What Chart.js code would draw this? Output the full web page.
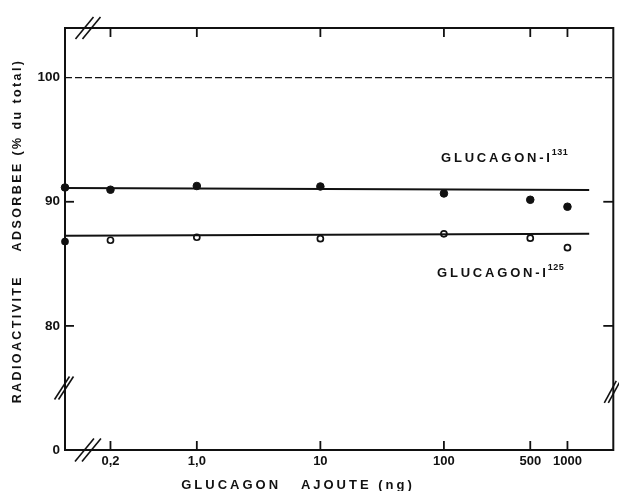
<!DOCTYPE html>
<html>
<head>
<meta charset="utf-8">
<script src="https://cdn.jsdelivr.net/npm/chart.js@4/dist/chart.umd.min.js"></script>
<style>
  html, body { margin: 0; padding: 0; background: #fff; }
  canvas { display: block; }
</style>
</head>
<body>
<canvas id="chart" width="619" height="491"></canvas>
<script>
// ===============================
// Data
// ===============================

// glucagon added (ng), 0 = control sitting on the left axis
const doses = [0, 0.2, 1, 10, 100, 500, 1000];

// % radioactivity adsorbed
const i131 = [91.15, 90.97, 91.27, 91.23, 90.67, 90.16, 89.6];
const i125 = [86.8, 86.9, 87.14, 87.03, 87.42, 87.07, 86.3];

// fitted horizontal lines
const fitDoses = [0, 1500];
const fit131 = [91.1, 90.95];
const fit125 = [87.26, 87.42];

// 100 % reference (dashed)
const refDoses = [0, 2350];
const refLine = [100, 100];

// axis ticks
const xTicks = [0.2, 1, 10, 100, 500, 1000];
const xTickLabels = ["0,2", "1,0", "10", "100", "500", "1000"];
const yTicks = [70, 80, 90, 100];
const yTickLabels = ["0", "80", "90", "100"];

const X_MIN = 0.0857;
const X_MAX = 2350;
const Y_MIN = 70;
const Y_MAX = 104;

const INK = "#111";
const FONT = "'Liberation Sans', Arial, sans-serif";

function pts(xs, ys){
    return xs.map(function(x, i){
        return { x: x === 0 ? X_MIN : x, y: ys[i] };
    });
}

function line(ctx, x1, y1, x2, y2){
    ctx.beginPath();
    ctx.moveTo(x1, y1);
    ctx.lineTo(x2, y2);
    ctx.stroke();
}

function slashes(ctx, cx, cy, w, h, gap){
    ctx.save();
    ctx.lineWidth = 1.6;
    [-gap / 2, gap / 2].forEach(function(d){
        line(ctx, cx + d - w / 2, cy + h / 2, cx + d + w / 2, cy - h / 2);
    });
    ctx.restore();
}

function label(ctx, text, sup, x, y){
    ctx.save();
    ctx.fillStyle = INK;
    ctx.textAlign = "left";
    ctx.textBaseline = "alphabetic";
    ctx.font = "bold 13px " + FONT;
    ctx.letterSpacing = "2.8px";
    ctx.fillText(text, x, y);
    const w = ctx.measureText(text).width;
    ctx.font = "bold 9px " + FONT;
    ctx.letterSpacing = "0.5px";
    ctx.fillText(sup, x + w - 1, y - 7);
    ctx.restore();
}

// ===============================
// Frame, inward ticks, axis breaks
// ===============================

const framePlugin = {
    id: "frame",
    beforeDatasetsDraw(chart){
        const ctx = chart.ctx;
        const a = chart.chartArea;
        const xs = chart.scales.x;
        const ys = chart.scales.y;

        ctx.save();
        ctx.strokeStyle = INK;
        ctx.lineWidth = 2;
        ctx.strokeRect(a.left, a.top, a.right - a.left, a.bottom - a.top);

        ctx.lineWidth = 1.8;
        xTicks.forEach(function(v){
            const px = xs.getPixelForValue(v);
            line(ctx, px, a.bottom, px, a.bottom - 9);
            line(ctx, px, a.top, px, a.top + 9);
        });

        yTicks.slice(1, 3).forEach(function(v){
            const py = ys.getPixelForValue(v);
            line(ctx, a.left, py, a.left + 9, py);
            line(ctx, a.right, py, a.right - 10, py);
        });
        ctx.restore();
    },
    afterDraw(chart){
        const ctx = chart.ctx;
        const a = chart.chartArea;
        const xs = chart.scales.x;
        const ys = chart.scales.y;

        ctx.save();
        ctx.strokeStyle = INK;

        const bx = xs.getPixelForValue(0.1315);
        const by = ys.getPixelForValue(75);
        slashes(ctx, bx, a.top, 18, 22, 7);
        slashes(ctx, bx, a.bottom, 19, 23, 7);
        slashes(ctx, a.left - 1, by, 15, 23, 4);
        slashes(ctx, a.right - 1, by + 4, 12, 22, 4);

        // axis titles
        ctx.fillStyle = INK;
        ctx.textBaseline = "middle";
        ctx.textAlign = "center";
        ctx.font = "bold 13px " + FONT;
        ctx.letterSpacing = "3px";
        ctx.fillText("GLUCAGON   AJOUTE (ng)", 298, 485);

        ctx.save();
        ctx.translate(18, 231);
        ctx.rotate(-Math.PI / 2);
        ctx.font = "bold 12.5px " + FONT;
        ctx.letterSpacing = "2.4px";
        ctx.fillText("RADIOACTIVITE    ADSORBEE (% du total)", 0, 0);
        ctx.restore();

        // series labels
        label(ctx, "GLUCAGON-I", "131", 441, 161.5);
        label(ctx, "GLUCAGON-I", "125", 437, 276.5);

        ctx.restore();
    }
};

// ===============================
// Chart
// ===============================

Chart.defaults.font.family = FONT;
Chart.defaults.font.size = 13;
Chart.defaults.font.weight = "bold";
Chart.defaults.color = INK;

new Chart(document.getElementById("chart"), {

    type: "line",

    data: {
        datasets: [
            {
                data: pts(refDoses, refLine),
                borderColor: INK,
                borderWidth: 1.3,
                borderDash: [7, 3],
                pointRadius: 0
            },
            {
                data: pts(fitDoses, fit131),
                borderColor: INK,
                borderWidth: 2,
                pointRadius: 0
            },
            {
                data: pts(fitDoses, fit125),
                borderColor: INK,
                borderWidth: 2,
                pointRadius: 0
            },
            {
                data: pts(doses, i131),
                showLine: false,
                pointRadius: 3.8,
                pointBackgroundColor: INK,
                pointBorderColor: INK,
                pointBorderWidth: 1,
                clip: false
            },
            {
                data: pts(doses, i125),
                showLine: false,
                pointRadius: 3,
                pointBackgroundColor: ["#111", "#fff", "#fff", "#fff", "#fff", "#fff", "#fff"],
                pointBorderColor: INK,
                pointBorderWidth: 1.7,
                clip: false
            }
        ]
    },

    options: {
        responsive: false,
        animation: false,
        devicePixelRatio: 1,
        layout: {
            padding: { left: 0, right: 5, top: 28, bottom: 0 }
        },
        plugins: {
            legend: { display: false },
            tooltip: { enabled: false }
        },
        scales: {
            x: {
                type: "logarithmic",
                min: X_MIN,
                max: X_MAX,
                grid: { display: false, drawTicks: false },
                border: { display: false },
                afterBuildTicks: function(scale){
                    scale.ticks = xTicks.map(function(v){ return { value: v }; });
                },
                afterFit: function(scale){
                    scale.height = 41;
                },
                ticks: {
                    autoSkip: false,
                    maxRotation: 0,
                    padding: 4,
                    font: { size: 13, weight: "bold" },
                    callback: function(value, index){
                        return xTickLabels[index];
                    }
                }
            },
            y: {
                min: Y_MIN,
                max: Y_MAX,
                grid: { display: false, drawTicks: false },
                border: { display: false },
                afterBuildTicks: function(scale){
                    scale.ticks = yTicks.map(function(v){ return { value: v }; });
                },
                afterFit: function(scale){
                    scale.width = 65;
                },
                ticks: {
                    padding: 5,
                    font: { size: 13.5, weight: "bold" },
                    callback: function(value, index){
                        return yTickLabels[index];
                    }
                }
            }
        }
    },

    plugins: [framePlugin]

});
</script>
</body>
</html>
